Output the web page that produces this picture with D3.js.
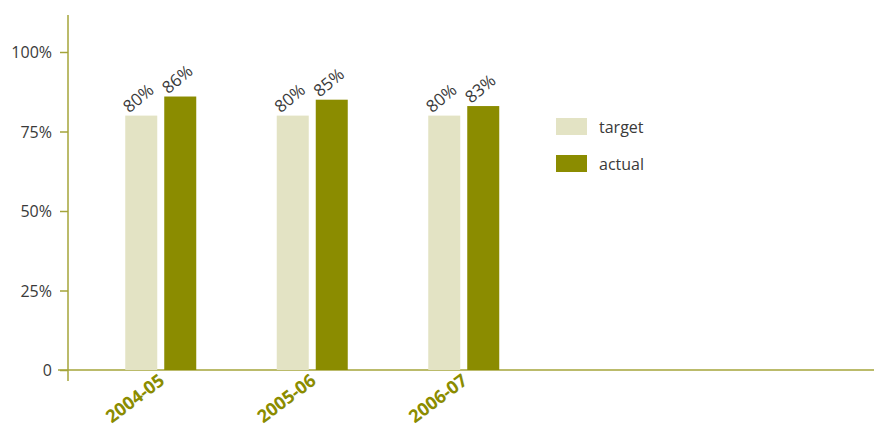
<!DOCTYPE html>
<html>
<head>
<meta charset="utf-8">
<script src="https://cdn.jsdelivr.net/npm/d3@7/dist/d3.min.js"></script>
<style>
  html, body { margin: 0; padding: 0; background: #fff; overflow: hidden; }
  svg { display: block; }
</style>
</head>
<body>
<svg id="chart" width="874" height="431"></svg>
<script>
// Performance against target, by year
const years = ["2004-05", "2005-06", "2006-07"];
const targetValues = [80, 80, 80];
const actualValues = [86, 85, 83];
const seriesNames = ["target", "actual"];
const yTicks = [0, 25, 50, 75, 100];

const colors = { target: "#e3e3c4", actual: "#8b8c00", axis: "#a4a43a", text: "#3a3a3a" };
const font = "'Open Sans', 'Noto Sans', sans-serif";

const svg = d3.select("#chart");

const y = d3.scaleLinear().domain([0, 100]).range([370, 52]);
const x = d3.scaleBand().domain(years).range([85, 85 + 151.5 * years.length]).padding(0);
const inner = d3.scaleBand().domain(seriesNames).range([-35.5, 35.5]).paddingInner(7 / 39);

const rows = years.map((yr, i) => ({ year: yr, target: targetValues[i], actual: actualValues[i] }));

// Y axis
const yAxis = svg.append("g").attr("transform", "translate(68,0)")
  .call(d3.axisLeft(y).tickValues(yTicks).tickSize(8).tickPadding(8)
    .tickFormat(d => d === 0 ? "0" : d + "%"));
yAxis.select(".domain").remove();
yAxis.selectAll(".tick line").attr("stroke", colors.axis).attr("stroke-width", 1.5);
yAxis.selectAll(".tick text").attr("fill", colors.text).style("font-family", font)
  .style("font-size", "16px").attr("dy", "0.35em");
svg.append("line").attr("x1", 68).attr("x2", 68).attr("y1", 15).attr("y2", 381)
  .attr("stroke", colors.axis).attr("stroke-width", 1.5);
svg.append("line").attr("x1", 58).attr("x2", 874).attr("y1", y(0)).attr("y2", y(0))
  .attr("stroke", colors.axis).attr("stroke-width", 1.5);

// Bars
const groups = svg.append("g").selectAll("g").data(rows).join("g")
  .attr("transform", d => `translate(${x(d.year) + x.bandwidth() / 2},0)`);

groups.selectAll("rect").data(d => seriesNames.map(k => ({ key: k, value: d[k] })))
  .join("rect")
  .attr("x", d => inner(d.key))
  .attr("width", inner.bandwidth())
  .attr("y", d => y(d.value))
  .attr("height", d => y(0) - y(d.value))
  .attr("fill", d => colors[d.key]);

// Value labels
groups.selectAll("text.val").data(d => seriesNames.map(k => ({ key: k, value: d[k] })))
  .join("text").attr("class", "val")
  .attr("transform", d => `translate(${inner(d.key) + 4},${y(d.value) - 2}) rotate(-40)`)
  .attr("fill", colors.text).style("font-family", font).style("font-size", "17px")
  .text(d => d.value + "%");

// Category labels
svg.append("g").selectAll("text").data(years).join("text")
  .attr("transform", d => `translate(${x(d) + x.bandwidth() / 2 + 5},${383}) rotate(-37)`)
  .attr("text-anchor", "end")
  .attr("fill", "#8b8c00").style("font-family", font).style("font-size", "18px")
  .style("font-weight", "bold")
  .text(d => d);

// Legend
const legend = svg.append("g").attr("transform", "translate(556,118)");
const items = legend.selectAll("g").data(seriesNames).join("g")
  .attr("transform", (d, i) => `translate(0,${i * 37})`);
items.append("rect").attr("width", 31).attr("height", 17).attr("fill", d => colors[d]);
items.append("text").attr("x", 43).attr("y", 15).attr("fill", colors.text)
  .style("font-family", font).style("font-size", "16px").text(d => d);
</script>
</body>
</html>
